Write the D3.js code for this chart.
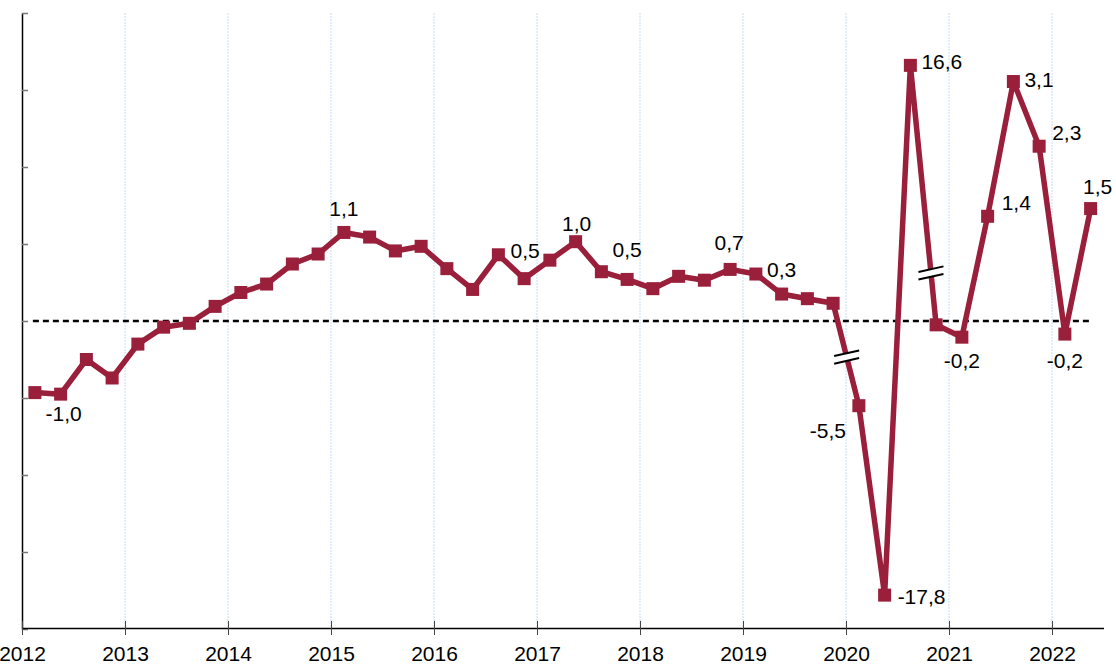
<!DOCTYPE html>
<html>
<head>
<meta charset="utf-8">
<script src="https://cdn.jsdelivr.net/npm/d3@7"></script>
<style>
  body { margin: 0; background: #fff; }
  svg { display: block; }
</style>
</head>
<body>
<div id="chart"></div>
<script>
// quarterly growth, 2012Q1 .. 2022Q2
var quarters = d3.range(42).map(function(i) {
    return (2012 + Math.floor(i / 4)) + "Q" + (i % 4 + 1);
});
var values = [
    -0.93, -0.95, -0.50, -0.74, -0.30, -0.08, -0.03, 0.19,
     0.37,  0.48,  0.74,  0.87,  1.15,  1.09,  0.91, 0.97,
     0.68,  0.41,  0.86,  0.55,  0.79,  1.03,  0.64, 0.54,
     0.42,  0.58,  0.53,  0.67,  0.61,  0.35,  0.29, 0.23,
    -5.5, -17.8, 16.6, -0.05, -0.21, 1.36, 3.11, 2.27,
    -0.17,  1.46
];
// points drawn on a compressed scale (broken axis)
var compressed = ["2020Q1", "2020Q2", "2020Q3"];
var compressFactor = 0.2;

var labelQuarters = ["2012Q2", "2015Q1", "2016Q4", "2017Q2", "2017Q4", "2018Q4", "2019Q2",
    "2020Q1", "2020Q2", "2020Q3", "2021Q1", "2021Q2", "2021Q3", "2021Q4", "2022Q1", "2022Q2"];
var labelTexts = ["-1,0", "1,1", "0,5", "1,0", "0,5", "0,7", "0,3",
    "-5,5", "-17,8", "16,6", "-0,2", "1,4", "3,1", "2,3", "-0,2", "1,5"];

// segments that get a break mark: [from quarter, to quarter]
var breakSegments = [["2019Q4", "2020Q1"], ["2020Q3", "2020Q4"]];

var yearTicks = d3.range(2012, 2023);
var yTicks = d3.range(-4, 5);

var drawChart = function() {
    const width = 1116, height = 664;
    const left = 22, right = 1103.5, top = 13, bottom = 629;
    var lineColor = "#9a1f3b";
    var fontFamily = "Arial, 'Liberation Sans', sans-serif";
    var fontSize = 21;

    var svg = d3.select("#chart").append("svg")
        .attr("width", width)
        .attr("height", height);

    var x = d3.scaleLinear().domain([2012, 2022.5]).range([left, right]);
    var y = d3.scaleLinear().domain([-4, 4]).range([bottom, top]);

    var data = quarters.map(function(q, i) {
        var k = compressed.indexOf(q) >= 0 ? compressFactor : 1;
        return { q: q, t: 2012 + (i + 0.5) / 4, v: values[i], pv: values[i] * k };
    });
    var byQ = {};
    data.forEach(function(d) { byQ[d.q] = d; });

    // vertical grid
    svg.append("g").selectAll("line")
        .data(yearTicks.slice(1))
        .join("line")
        .attr("x1", d => x(d)).attr("x2", d => x(d))
        .attr("y1", top).attr("y2", bottom)
        .attr("stroke", "#c9ddf4")
        .attr("stroke-width", 1)
        .attr("stroke-dasharray", "2,1");

    // y axis (no labels, ticks inside)
    var yAxis = svg.append("g")
        .attr("transform", "translate(" + left + ",0)")
        .call(d3.axisLeft(y).tickValues(yTicks).tickSizeInner(-6).tickSizeOuter(0).tickFormat(""));
    yAxis.select(".domain").attr("stroke", "#000").attr("stroke-width", 1.5);
    yAxis.selectAll(".tick line").attr("stroke", "#777").attr("stroke-width", 1.5);

    // x axis
    var xAxis = svg.append("g")
        .attr("transform", "translate(0," + (bottom - 1) + ")")
        .call(d3.axisBottom(x).tickValues(yearTicks).tickSizeInner(7).tickSizeOuter(0).tickFormat(d3.format("d")));
    xAxis.select(".domain").attr("stroke", "#000").attr("stroke-width", 1.5);
    xAxis.selectAll(".tick line").attr("y1", -7).attr("y2", 7).attr("stroke", "#444");
    xAxis.selectAll(".tick text")
        .attr("y", 33).attr("dy", 0)
        .attr("fill", "#000")
        .attr("font-family", fontFamily)
        .attr("font-size", fontSize);

    // zero line
    svg.append("line")
        .attr("x1", x(data[0].t) - 2).attr("x2", x(data[data.length - 1].t) + 1)
        .attr("y1", y(0)).attr("y2", y(0))
        .attr("stroke", "#000")
        .attr("stroke-width", 2.5)
        .attr("stroke-dasharray", "6,4");

    // the line
    var line = d3.line().x(d => x(d.t)).y(d => y(d.pv));
    svg.append("path")
        .datum(data)
        .attr("d", line)
        .attr("fill", "none")
        .attr("stroke", lineColor)
        .attr("stroke-width", 5.5)
        .attr("stroke-linejoin", "round");

    // markers
    const ms = 13;
    svg.append("g").selectAll("rect")
        .data(data)
        .join("rect")
        .attr("x", d => x(d.t) - ms / 2)
        .attr("y", d => y(d.pv) - ms / 2)
        .attr("width", ms).attr("height", ms)
        .attr("fill", lineColor);

    // break marks
    var breakPos = [0.525, 0.8];
    breakSegments.forEach(function(s, i) {
        var a = byQ[s[0]], b = byQ[s[1]];
        var px = x(a.t) + (x(b.t) - x(a.t)) * breakPos[i];
        var py = y(a.pv) + (y(b.pv) - y(a.pv)) * breakPos[i];
        var hw = 12.5, rise = 2.8, gap = 3.8;
        var g = svg.append("g");
        g.append("polygon")
            .attr("points", [
                [px - hw, py - gap + rise], [px + hw, py - gap - rise],
                [px + hw, py + gap - rise], [px - hw, py + gap + rise]
            ].map(p => p.join(",")).join(" "))
            .attr("fill", "#fff");
        [-gap, gap].forEach(function(o) {
            g.append("line")
                .attr("x1", px - hw).attr("y1", py + o + rise)
                .attr("x2", px + hw).attr("y2", py + o - rise)
                .attr("stroke", "#000").attr("stroke-width", 2);
        });
    });

    // value labels
    var place = {
        "2012Q2": [3, 27, "middle"],
        "2015Q1": [0, -16, "middle"],
        "2016Q4": [1, -21, "middle"],
        "2017Q2": [1, -11, "middle"],
        "2017Q4": [0, -22, "middle"],
        "2018Q4": [-1, -19, "middle"],
        "2019Q2": [0, -17, "middle"],
        "2020Q1": [-31, 32, "middle"],
        "2020Q2": [13, 9, "start"],
        "2020Q3": [11, 4, "start"],
        "2021Q1": [0, 31, "middle"],
        "2021Q2": [14, -6, "start"],
        "2021Q3": [11, 5, "start"],
        "2021Q4": [13, -6, "start"],
        "2022Q1": [0, 34, "middle"],
        "2022Q2": [7, -15, "middle"]
    };
    svg.append("g").selectAll("text")
        .data(labelQuarters)
        .join("text")
        .attr("x", d => x(byQ[d].t) + place[d][0])
        .attr("y", d => y(byQ[d].pv) + place[d][1])
        .attr("text-anchor", d => place[d][2])
        .attr("font-family", fontFamily)
        .attr("font-size", fontSize)
        .attr("fill", "#000")
        .text((d, i) => labelTexts[i]);
};

window.addEventListener("load", drawChart);
</script>
</body>
</html>
